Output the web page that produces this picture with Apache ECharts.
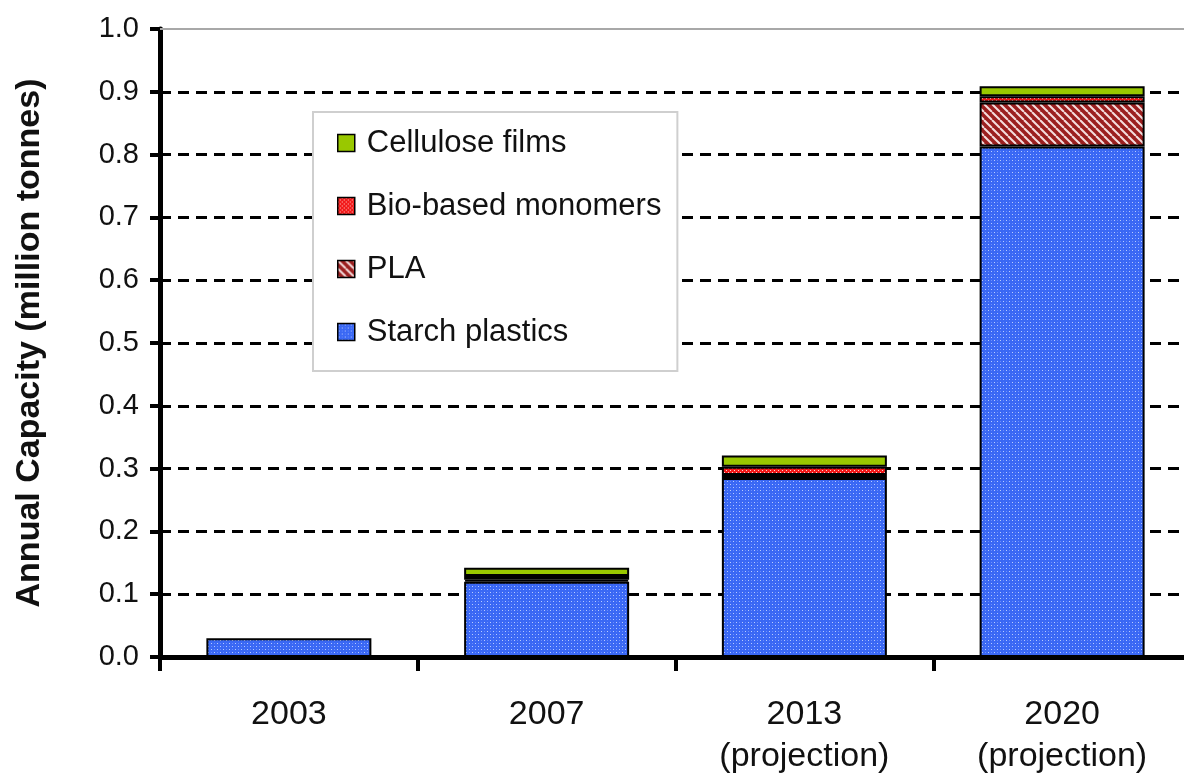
<!DOCTYPE html>
<html>
<head>
<meta charset="utf-8">
<script src="https://cdn.jsdelivr.net/npm/echarts@6/dist/echarts.min.js"></script>
<style>
html,body{margin:0;padding:0;background:#fff;}
#c{width:1184px;height:774px;}
</style>
</head>
<body>
<div id="c"></div>
<script>
var categories = ['2003', '2007', '2013\n(projection)', '2020\n(projection)'];
var starchPlastics = [0.030, 0.120, 0.285, 0.813];
var pla = [null, 0.003, 0.005, 0.070];
var bioMonomers = [null, 0.006, 0.013, 0.010];
var celluloseFilms = [null, 0.013, 0.018, 0.016];
var yTicks = [0, 0.1, 0.2, 0.3, 0.4, 0.5, 0.6, 0.7, 0.8, 0.9, 1.0];

function makePattern(w, h, draw) {
  var c = document.createElement('canvas');
  c.width = w; c.height = h;
  var g = c.getContext('2d');
  draw(g, w, h);
  return { image: c, repeat: 'repeat' };
}
var bluePat = makePattern(6, 6, function (g, w, h) {
  g.fillStyle = '#3a68f4'; g.fillRect(0, 0, w, h);
  g.fillStyle = 'rgba(200,215,255,0.9)';
  g.fillRect(1, 1, 1, 1); g.fillRect(4, 4, 1, 1);
  g.fillStyle = 'rgba(120,150,255,0.8)';
  g.fillRect(4, 1, 1, 1); g.fillRect(1, 4, 1, 1);
});
var redPat = makePattern(4, 4, function (g, w, h) {
  g.fillStyle = '#f21a1a'; g.fillRect(0, 0, w, h);
  g.fillStyle = '#ffd0d0';
  g.fillRect(0, 0, 1, 1); g.fillRect(2, 2, 1, 1);
});
var plaPat = makePattern(8, 8, function (g, w, h) {
  g.fillStyle = '#9b1f1f'; g.fillRect(0, 0, w, h);
  g.strokeStyle = '#f4dede'; g.lineWidth = 2;
  for (var k = -8; k <= 8; k += 8) {
    g.beginPath(); g.moveTo(k, 0); g.lineTo(k + 8, 8); g.stroke();
  }
});
var greenCol = '#99c800';

var font = 'Liberation Sans, Arial, Helvetica, sans-serif';
var chart = echarts.init(document.getElementById('c'));

function barSeries(name, data, color) {
  return {
    name: name, type: 'bar', stack: 'total', data: data, barWidth: 165,
    itemStyle: { color: color, borderColor: '#000', borderWidth: 2 },
    emphasis: { disabled: true }
  };
}

chart.setOption({
  animation: false,
  backgroundColor: '#fff',
  grid: { left: 160, top: 29, width: 1031, height: 628, containLabel: false, outerBoundsMode: 'none' },
  legend: {
    orient: 'vertical', left: 313, top: 112,
    data: ['Cellulose films', 'Bio-based monomers', 'PLA', 'Starch plastics'],
    icon: 'rect',
    itemWidth: 17, itemHeight: 17, itemGap: 27,
    padding: [13, 16, 21, 24],
    backgroundColor: '#fff', borderColor: '#cfcfcf', borderWidth: 2,
    textStyle: { fontFamily: font, fontSize: 31, color: '#111', lineHeight: 36, padding: [0, 0, 0, 7] },
    itemStyle: { borderColor: '#000', borderWidth: 1.5 },
    selectedMode: false
  },
  xAxis: [{
    type: 'category', data: categories, boundaryGap: true,
    axisLine: { show: true, lineStyle: { color: '#000', width: 5 } },
    axisTick: { show: true, length: 14, alignWithLabel: false, lineStyle: { color: '#000', width: 4 } },
    axisLabel: { fontFamily: font, fontSize: 34, color: '#111', lineHeight: 42, margin: 37 },
    splitLine: { show: false }
  }, {
    type: 'category', data: categories, position: 'top',
    axisLine: { show: true, lineStyle: { color: '#a8a8a8', width: 2 } },
    axisTick: { show: false }, axisLabel: { show: false }, splitLine: { show: false }
  }],
  yAxis: {
    type: 'value', min: 0, max: 1.0, interval: 0.1,
    name: 'Annual Capacity (million tonnes)', nameLocation: 'middle', nameGap: 113,
    nameTextStyle: { fontFamily: font, fontSize: 34, fontWeight: 'bold', color: '#111' },
    axisLine: { show: true, lineStyle: { color: '#000', width: 5 } },
    axisTick: { show: true, length: 10, lineStyle: { color: '#000', width: 4 } },
    axisLabel: {
      fontFamily: font, fontSize: 29, color: '#111', margin: 21,
      formatter: function (v) { return v.toFixed(1); }
    },
    splitLine: {
      show: true, showMinLine: false, showMaxLine: false,
      lineStyle: { color: '#000', width: 3, type: [11, 7] }
    }
  },
  series: [
    barSeries('Starch plastics', starchPlastics, bluePat),
    barSeries('PLA', pla, plaPat),
    barSeries('Bio-based monomers', bioMonomers, redPat),
    barSeries('Cellulose films', celluloseFilms, greenCol)
  ]
});
</script>
</body>
</html>
